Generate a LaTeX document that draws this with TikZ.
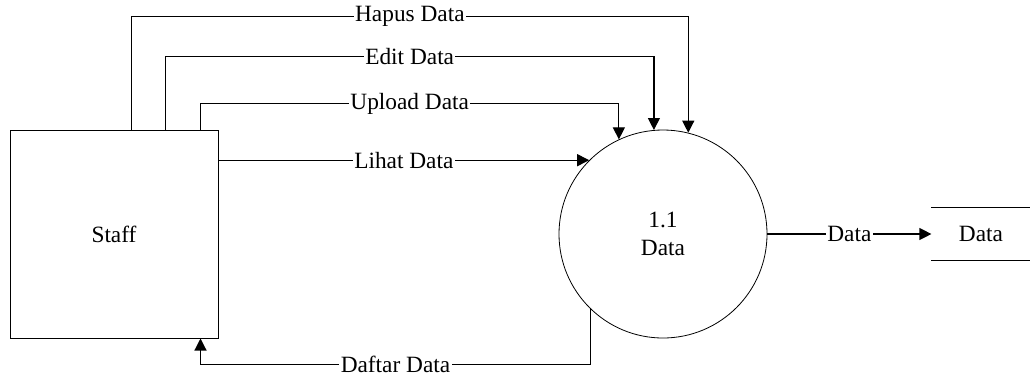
\documentclass[tikz,border=0pt]{standalone}
\usepackage{fontspec}
\newfontfamily\timesfont{Liberation Serif}
\usepackage{tikz}
\usetikzlibrary{arrows.meta,positioning,calc}
\tikzset{
  >={Triangle[length=9pt,width=9pt]},
  every picture/.style={line width=0.9pt,font=\timesfont\fontsize{17.5}{21}\selectfont},
  ent/.style={draw,line width=0.75pt,minimum width=156pt,minimum height=156pt,inner sep=0pt},
  proc/.style={circle,draw,line width=0.6pt,minimum size=156pt,inner sep=0pt,align=center},
  store/.style={minimum width=73.5pt,minimum height=39pt,inner sep=0pt},
  arr/.style={->},
  lab/.style={fill=white,inner sep=1pt},
}
\begin{document}
\begin{tikzpicture}[x=0.75pt,y=-0.75pt]
  \useasboundingbox (0,0) rectangle (1030,376);
  \node[ent] (staff) at (114,234) {Staff};
  \node[proc] (data) at (663,234) {1.1\\Data};
  \node[store] (dstore) at (981,234) {Data};
  \draw (dstore.north west) -- (dstore.north east);
  \draw (dstore.south west) -- (dstore.south east);
  % staff -> process
  \draw[arr] ($(staff.north west)+(122,0)$) -- ++(0,-113) -| node[lab,pos=0.25] {Hapus Data} (data.76);
  \draw[arr] ($(staff.north west)+(156,0)$) -- ++(0,-73) -| node[lab,pos=0.25] {Edit Data} (data.95);
  \draw[arr] ($(staff.north west)+(191,0)$) -- ++(0,-26) -| node[lab,pos=0.25] {Upload Data} (data.115);
  \draw[arr] (staff.east |- data.135) -- node[lab] {Lihat Data} (data.135);
  % process -> staff, store
  \draw[arr] (data.226) -- ++(0,55) -| node[lab,pos=0.25] {Daftar Data} ($(staff.south west)+(191,0)$);
  \draw[arr] (data.east) -- node[lab] {Data} (dstore.west);
\end{tikzpicture}
\end{document}
